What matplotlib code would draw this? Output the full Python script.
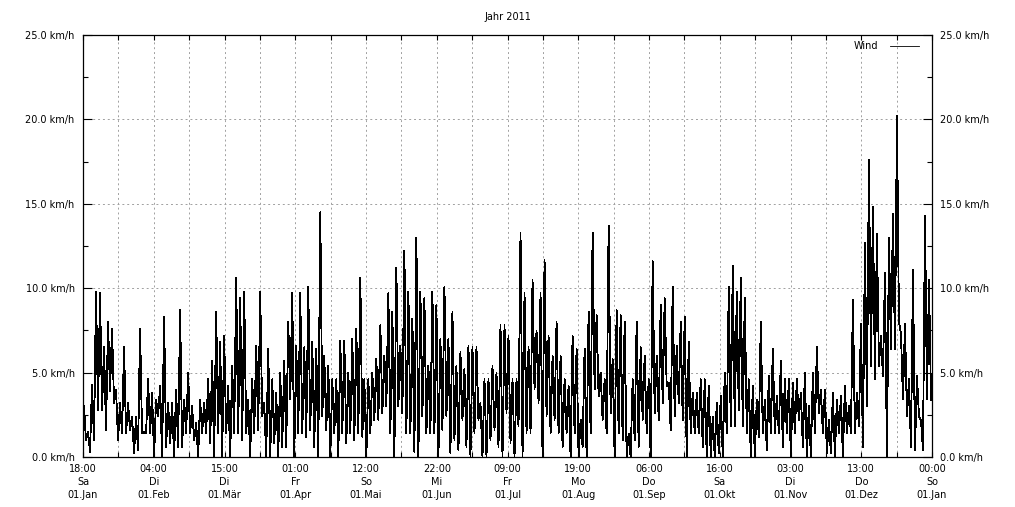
import numpy as np
import matplotlib
matplotlib.use('Agg')
import matplotlib.pyplot as plt
from matplotlib.ticker import MultipleLocator

title = 'Jahr 2011'
series_name = 'Wind'
y_unit = 'km/h'

# x tick labels (every 1/12 of the year)
tick_labels = ['18:00\nSa\n01.Jan', '04:00\nDi\n01.Feb', '15:00\nDi\n01.Mär',
               '01:00\nFr\n01.Apr', '12:00\nSo\n01.Mai', '22:00\nMi\n01.Jun',
               '09:00\nFr\n01.Jul', '19:00\nMo\n01.Aug', '06:00\nDo\n01.Sep',
               '16:00\nSa\n01.Okt', '03:00\nDi\n01.Nov', '13:00\nDo\n01.Dez',
               '00:00\nSo\n01.Jan']

# wind speed: local highs and lows, ~1.7 days apart
peaks = [3.0, 1.5, 4.3, 9.8, 9.7, 6.5, 8.0, 7.6, 4.0, 3.2, 6.5, 3.2, 2.4, 2.4, 7.6, 1.5, 4.6, 3.8, 3.4, 4.2,
         8.3, 3.2, 3.2, 4.0, 8.7, 3.4,
         5.0, 3.0, 2.0, 3.4, 3.2, 4.6, 5.7, 8.6, 6.8, 7.2, 4.2, 5.4, 10.6, 9.4, 9.8, 3.4, 4.6, 6.6, 9.8, 3.2,
         6.4, 4.6, 3.8, 5.0, 5.7, 8.0,
         9.7, 6.6, 9.7, 6.5, 10.1, 6.8, 6.4, 14.5, 6.0, 5.4, 4.6, 4.6, 6.9, 6.9, 5.0, 7.0, 7.6, 10.6, 4.6, 4.6,
         5.0, 5.8, 7.8, 6.0, 9.7, 8.6, 11.2,
         6.6, 12.2, 9.8, 8.2, 13.0, 9.8, 9.4, 5.4, 9.8, 9.0, 7.0, 10.1, 7.0, 8.6, 5.4, 6.2, 5.2, 6.6, 6.5, 6.5,
         3.2, 4.6, 4.6, 5.4, 5.0, 7.8,
         7.8, 7.2, 4.6, 4.6, 13.3, 9.7, 6.5, 10.5, 7.5, 9.7, 11.7, 7.2, 6.0, 8.0, 6.0, 4.6, 4.2, 7.2, 6.4, 2.2,
         6.4, 8.6, 13.3, 8.4, 5.0, 4.6,
         13.7, 5.8, 8.7, 8.4, 8.0, 1.4, 4.6, 8.0, 6.5, 6.0, 4.6, 11.6, 6.0, 9.0, 9.4, 4.4, 10.1, 6.6, 8.0, 8.3,
         6.8, 3.8, 3.8, 4.6, 4.6, 4.2,
         2.4, 3.2, 3.6, 5.0, 10.1, 11.3, 9.8, 10.6, 9.4, 4.6, 4.2, 3.4, 8.0, 3.4, 4.8, 6.4, 3.6, 5.7, 4.6, 4.6,
         4.4, 4.6, 3.8, 5.0, 3.0, 5.0, 6.5,
         4.0, 4.0, 2.2, 3.8, 3.4, 3.6, 4.2, 3.0, 9.3, 3.8, 7.9, 12.7, 17.6, 14.8, 13.2, 7.2, 10.9, 13.0, 14.4, 20.2,
         7.3, 7.9, 4.6, 11.1, 4.8, 2.2, 14.3, 10.5]

troughs = [1.0, 0.3, 1.0, 2.8, 2.8, 1.6, 3.9, 3.2, 1.0, 1.4, 1.4, 1.6, 0.2, 0.4, 1.4, 1.4, 1.4, 0.0, 2.4, 0.0,
           0.6, 0.8, 0.0, 0.6, 0.6, 1.4,
           1.4, 1.0, 0.0, 1.4, 1.4, 0.8, 0.0, 1.4, 0.0, 1.4, 0.0, 1.4, 1.4, 1.0, 1.4, 0.0, 1.4, 1.6, 2.4, 0.0,
           0.0, 0.8, 0.0, 0.6, 0.6, 3.4,
           0.0, 1.4, 1.4, 1.2, 1.6, 0.6, 0.0, 2.4, 1.6, 0.0, 1.4, 0.0, 1.4, 0.8, 1.4, 1.0, 1.4, 1.2, 0.0, 1.4,
           2.2, 2.2, 2.6, 3.0, 1.4, 0.0, 3.0,
           2.6, 1.4, 1.4, 0.3, 0.0, 2.4, 1.4, 1.4, 1.4, 0.0, 1.6, 2.4, 0.2, 1.0, 0.4, 2.2, 0.6, 0.0, 1.4, 2.2,
           0.0, 0.0, 1.0, 1.6, 0.6, 0.0,
           2.6, 0.8, 0.0, 1.8, 0.0, 1.4, 1.4, 4.0, 3.2, 0.0, 2.4, 1.4, 2.2, 1.4, 0.6, 1.4, 0.0, 1.4, 0.0, 0.6,
           0.0, 1.4, 4.0, 3.6, 2.2, 1.4,
           2.6, 0.0, 1.4, 1.0, 0.0, 0.0, 1.0, 0.6, 2.2, 1.4, 0.0, 2.6, 2.2, 3.2, 4.2, 1.6, 2.4, 3.2, 2.2, 0.0,
           1.4, 1.4, 1.4, 0.6, 0.0, 0.0,
           0.0, 0.2, 0.0, 1.4, 1.8, 1.8, 2.8, 1.8, 1.4, 0.0, 0.0, 1.2, 1.4, 0.4, 1.4, 1.4, 1.4, 0.6, 1.4, 0.0,
           1.4, 2.2, 0.6, 0.0, 0.0, 1.4, 2.6,
           1.4, 0.2, 0.2, 0.0, 1.4, 0.0, 1.4, 1.4, 1.4, 1.8, 0.6, 3.0, 5.4, 4.6, 5.4, 4.8, 0.0, 6.4, 6.4, 8.0,
           3.4, 2.4, 0.6, 0.4, 2.4, 0.4, 3.4, 3.4]

days = 365.25
wind = np.column_stack([peaks, troughs]).ravel()
t = (np.arange(len(wind)) + 0.5) * days / len(wind)

fig = plt.figure(figsize=(10.15, 5.07), dpi=100)
ax = fig.add_axes([83 / 1015, 50 / 507, 849 / 1015, 422 / 507])

ax.plot(t, wind, color='black', lw=0.6, antialiased=False, label=series_name)

ax.set_xlim(0, days)
ax.set_ylim(0, 25)
ax.set_xticks(np.arange(13) * days / 12)
ax.set_xticklabels(tick_labels, fontsize=7, linespacing=1.4)
ax.set_xticks(np.arange(25) * days / 24, minor=True)
ax.yaxis.set_minor_locator(MultipleLocator(2.5))
ax.set_yticks(np.arange(0, 26, 5))
ax.set_yticklabels([f'{v:.1f} {y_unit}' for v in np.arange(0, 26, 5)], fontsize=7)

ax.tick_params(which='both', direction='in', top=True, right=True, labelright=True, width=0.8)
ax.tick_params(axis='x', which='both', length=3.6, pad=5)
ax.tick_params(axis='y', which='major', length=6.5, pad=6)
ax.tick_params(axis='y', which='minor', length=3.6)

grid_style = dict(color='#a0a0a0', lw=0.7, linestyle=(0, (2, 3)))
ax.grid(True, axis='x', which='both', **grid_style)
ax.grid(True, axis='y', which='major', **grid_style)
ax.set_axisbelow(True)
for s in ax.spines.values():
    s.set_linewidth(0.9)

ax.set_title(title, fontsize=7, pad=11)
ax.legend(loc='center right', bbox_to_anchor=(0.985, 0.974), frameon=False, markerfirst=False,
          handlelength=3.0, handletextpad=1.2, borderpad=0, borderaxespad=0, fontsize=7)

fig.savefig('out.png', dpi=100)
